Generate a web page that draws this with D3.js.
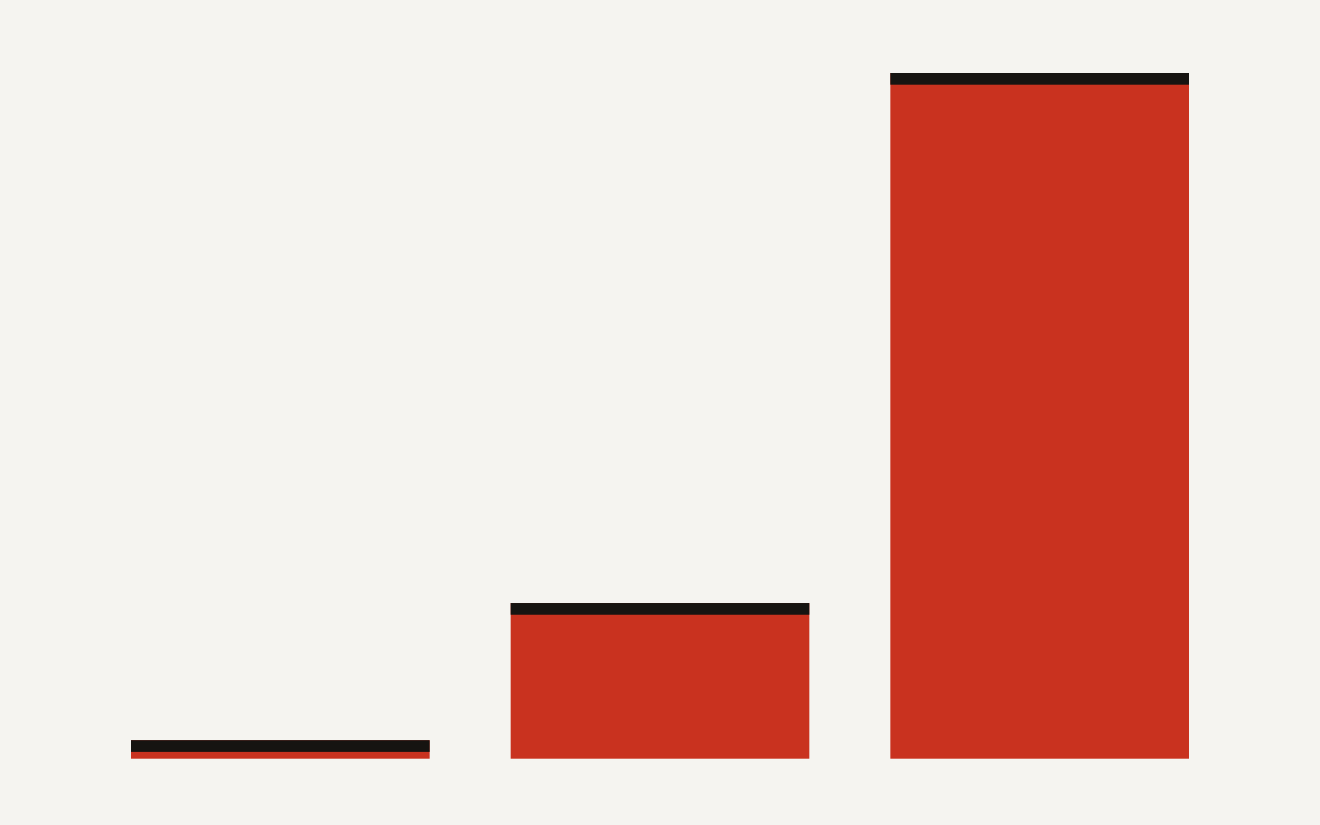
<!DOCTYPE html>
<html>
<head>
<meta charset="utf-8">
<script src="https://cdn.jsdelivr.net/npm/d3@7"></script>
<style>
  html, body { margin: 0; padding: 0; background: #f5f4f0; }
</style>
</head>
<body>
<div id="plot"></div>
<script>
// bar values (tallest bar = 100)
const categories = ["A", "B", "C"];
const values = [2.7, 22.7, 100];

const width = 1320,
      height = 825,
      capHeight = 11.7; // dark strip at the top of each bar

const svg = d3.select("#plot")
  .append("svg")
    .attr("width", width)
    .attr("height", height)
    .style("display", "block")
    .style("background", "#f5f4f0");

const x = d3.scaleBand()
  .domain(categories)
  .range([131, 1189])
  .paddingInner(0.2134)
  .paddingOuter(0);

const y = d3.scaleLinear()
  .domain([0, 100])
  .range([758.7, 73]);

const bars = svg.selectAll(".bar")
  .data(categories.map(function(c, i) { return { cat: c, value: values[i] }; }))
  .enter().append("g")
    .attr("class", "bar");

bars.append("rect")
  .attr("x", function(d) { return x(d.cat); })
  .attr("y", function(d) { return y(d.value); })
  .attr("width", x.bandwidth())
  .attr("height", function(d) { return y(0) - y(d.value); })
  .attr("fill", "#c9321f");

bars.append("rect")
  .attr("x", function(d) { return x(d.cat); })
  .attr("y", function(d) { return y(d.value); })
  .attr("width", x.bandwidth())
  .attr("height", capHeight)
  .attr("fill", "#161411");
</script>
</body>
</html>
